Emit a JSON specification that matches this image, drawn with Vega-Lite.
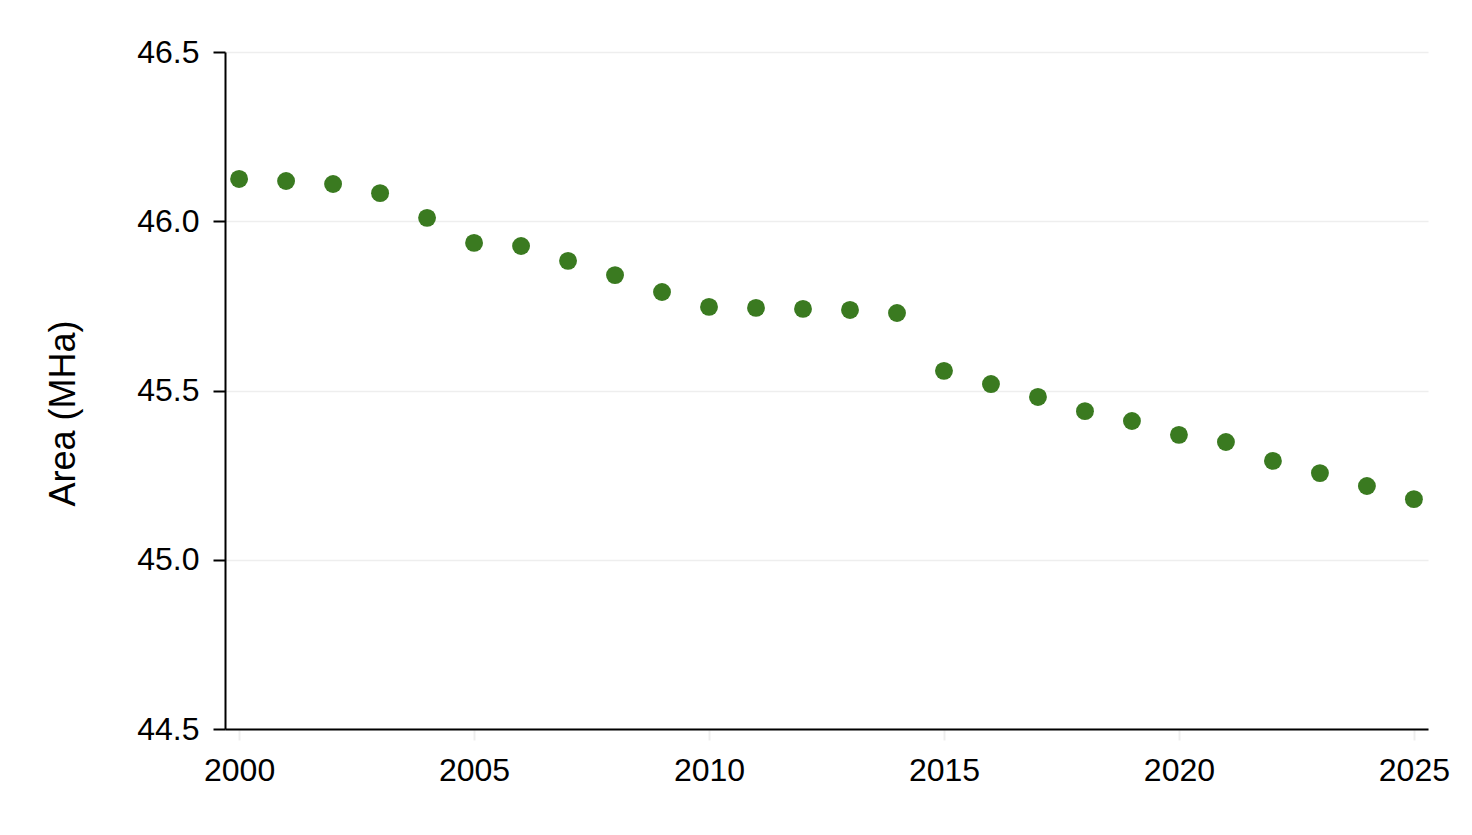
{
  "$schema": "https://vega.github.io/schema/vega-lite/v6.json",
  "autosize": {"type": "none"},
  "padding": {"left": 225, "top": 52, "right": 44, "bottom": 106},
  "width": 1203,
  "height": 677,
  "background": "white",
  "config": {
    "view": {"stroke": null},
    "font": "Liberation Sans",
    "axis": {
      "labelFont": "Liberation Sans",
      "titleFont": "Liberation Sans",
      "labelColor": "black",
      "titleColor": "black",
      "domainColor": "black",
      "domainWidth": 2
    }
  },
  "data": {
    "values": [
      {"year": 2000, "area": 46.125},
      {"year": 2001, "area": 46.119},
      {"year": 2002, "area": 46.110},
      {"year": 2003, "area": 46.083},
      {"year": 2004, "area": 46.010},
      {"year": 2005, "area": 45.936},
      {"year": 2006, "area": 45.927},
      {"year": 2007, "area": 45.883},
      {"year": 2008, "area": 45.841},
      {"year": 2009, "area": 45.791},
      {"year": 2010, "area": 45.747},
      {"year": 2011, "area": 45.744},
      {"year": 2012, "area": 45.741},
      {"year": 2013, "area": 45.738},
      {"year": 2014, "area": 45.729},
      {"year": 2015, "area": 45.558},
      {"year": 2016, "area": 45.519},
      {"year": 2017, "area": 45.481},
      {"year": 2018, "area": 45.439},
      {"year": 2019, "area": 45.410},
      {"year": 2020, "area": 45.369},
      {"year": 2021, "area": 45.348},
      {"year": 2022, "area": 45.292},
      {"year": 2023, "area": 45.256},
      {"year": 2024, "area": 45.218},
      {"year": 2025, "area": 45.179}
    ]
  },
  "mark": {"type": "circle", "size": 320, "color": "#3a7a20", "opacity": 1},
  "encoding": {
    "x": {
      "field": "year",
      "type": "quantitative",
      "scale": {"domain": [1999.7, 2025.3], "nice": false, "zero": false},
      "axis": {
        "values": [2000, 2005, 2010, 2015, 2020, 2025],
        "format": "d",
        "title": null,
        "grid": false,
        "labelFontSize": 32,
        "labelPadding": 15,
        "tickColor": "#eeeeee",
        "tickSize": 11,
        "tickWidth": 2,
        "labelFlush": false
      }
    },
    "y": {
      "field": "area",
      "type": "quantitative",
      "scale": {"domain": [44.5, 46.5], "nice": false, "zero": false},
      "axis": {
        "values": [44.5, 45.0, 45.5, 46.0, 46.5],
        "format": ".1f",
        "title": "Area (MHa)",
        "titleFontSize": 36,
        "titleFontWeight": "normal",
        "titleX": -162,
        "titleY": 361,
        "titleAlign": "center",
        "titleBaseline": "middle",
        "titleAngle": -90,
        "labelFontSize": 32,
        "labelPadding": 14,
        "tickColor": "black",
        "tickSize": 12,
        "tickWidth": 2,
        "grid": true,
        "gridColor": "#eeeeee",
        "gridWidth": 1.5
      }
    }
  }
}
